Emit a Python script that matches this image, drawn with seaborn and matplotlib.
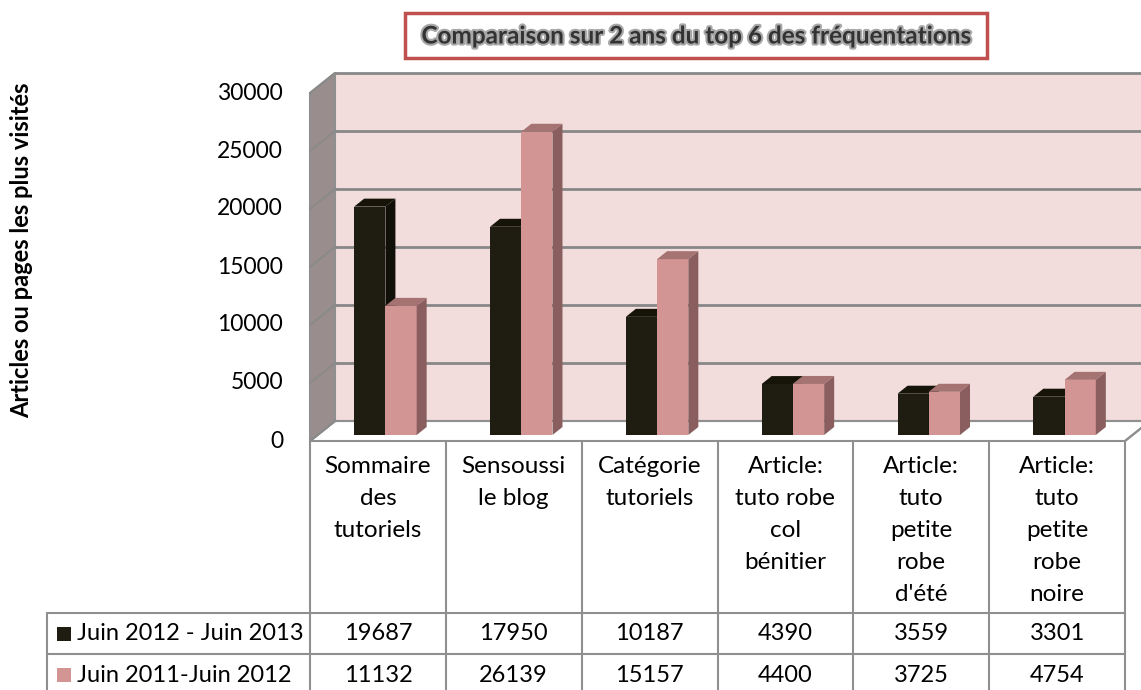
import numpy as np
import pandas as pd
import matplotlib
matplotlib.use("Agg")
import matplotlib.pyplot as plt
import matplotlib.patheffects as pe
from matplotlib.patches import Polygon, Rectangle
import seaborn as sns

# data
categories = ["Sommaire\ndes\ntutoriels", "Sensoussi\nle blog", "Catégorie\ntutoriels",
              "Article:\ntuto robe\ncol\nbénitier", "Article:\ntuto\npetite\nrobe\nd'été",
              "Article:\ntuto\npetite\nrobe\nnoire"]
series_names = ["Juin 2012 - Juin 2013", "Juin 2011-Juin 2012"]
visits_2013 = [19687, 17950, 10187, 4390, 3559, 3301]
visits_2012 = [11132, 26139, 15157, 4400, 3725, 4754]
y_ticks = [0, 5000, 10000, 15000, 20000, 25000, 30000]

title = "Comparaison sur 2 ans du top 6 des fréquentations"
ylabel = "Articles ou pages les plus visités"

colors = {"black": ("#1f1d12", "#100f08", "#161409"),
          "pink": ("#d39494", "#8a5e5e", "#a67373")}

sns.set_theme(style="white")
plt.rcParams["font.family"] = ["Lato", "DejaVu Sans"]

W, H = 1141, 690
fig = plt.figure(figsize=(W / 100, H / 100), dpi=100)
fig.patch.set_facecolor("white")

# front plane of the 3d box, in pixels: x 310..1125, y 441 (0) .. 93 (30000)
ax = fig.add_axes([310 / W, (H - 441) / H, 815 / W, 348 / H])
sx = 815 / 6
sy = 348 / 30000


def dx(px):
    return px / sx


def dy(px):
    return px / sy


def px2d(px):
    return -0.5 + (px - 310) / sx


def py2d(py):
    return (441 - py) / sy


df = pd.DataFrame({
    "cat": categories * 2,
    "val": visits_2013 + visits_2012,
    "serie": [series_names[0]] * 6 + [series_names[1]] * 6,
})

sns.barplot(data=df, x="cat", y="val", hue="serie", hue_order=series_names,
            palette=[colors["black"][0], colors["pink"][0]], saturation=1,
            width=0.46, dodge=True, legend=False, ax=ax)
ax.set_xlim(-0.5, 5.5)
ax.set_ylim(0, 30000)
ax.axis("off")

grid_c = "#878787"
line_c = "#8f8f8f"
DX, DY = dx(25), dy(20)

# back wall
ax.add_patch(Polygon([(-0.5 + DX, DY), (5.5 + DX, DY), (5.5 + DX, 30000 + DY), (-0.5 + DX, 30000 + DY)],
                     closed=True, facecolor="#f2dddc", edgecolor="none", zorder=0, clip_on=False))
for t in y_ticks[1:]:
    ax.plot([-0.5 + DX, 5.5 + DX + 0.2], [t + DY, t + DY], color=grid_c, lw=2, zorder=0.5, clip_on=False)

# floor
ax.add_patch(Polygon([(-0.5, 0), (5.5, 0), (5.5 + DX, DY), (-0.5 + DX, DY)], closed=True,
                     facecolor="white", edgecolor=line_c, lw=1.5, zorder=1, clip_on=False))
ax.plot([-0.5 + DX, 5.5 + DX + 0.2], [DY, DY], color=line_c, lw=1.5, zorder=1.1, clip_on=False)

# left wall
ax.add_patch(Polygon([(-0.5, 0), (-0.5 + DX, DY), (-0.5 + DX, 30000 + DY), (-0.5, 30000)], closed=True,
                     facecolor="#9a8d8d", edgecolor=line_c, lw=1.5, zorder=1.2, clip_on=False))
for t in y_ticks:
    ax.plot([-0.5, -0.5 + DX], [t, t + DY], color="#8a8a8a", lw=1.5, zorder=1.3, clip_on=False)

# bars: move into the box and give them depth
bdx, bdy = dx(10), dy(8)
pink_rgb = matplotlib.colors.to_rgb(colors["pink"][0])
for p in ax.patches:
    if not isinstance(p, Rectangle) or p.get_width() > 1:
        continue
    fc = matplotlib.colors.to_rgb(p.get_facecolor())
    key = "pink" if np.allclose(fc, pink_rgb, atol=0.02) else "black"
    z = 4 if key == "pink" else 3
    p.set_x(p.get_x() + dx(7.5))
    p.set_y(dy(6))
    p.set_zorder(z)
    p.set_edgecolor("none")
    x0, y0, w, h = p.get_x(), p.get_y(), p.get_width(), p.get_height()
    top = [(x0, y0 + h), (x0 + w, y0 + h), (x0 + w + bdx, y0 + h + bdy), (x0 + bdx, y0 + h + bdy)]
    side = [(x0 + w, y0), (x0 + w + bdx, y0 + bdy), (x0 + w + bdx, y0 + h + bdy), (x0 + w, y0 + h)]
    ax.add_patch(Polygon(top, closed=True, facecolor=colors[key][2], edgecolor="none", zorder=z, clip_on=False))
    ax.add_patch(Polygon(side, closed=True, facecolor=colors[key][1], edgecolor="none", zorder=z, clip_on=False))

# y tick labels
for t in y_ticks:
    ax.text(px2d(283), t, str(t), ha="right", va="center", fontsize=16.5, color="black")

# data table
tfs = 17.5
y_rows = [441, 613, 654, 695]
for i in range(7):
    ax.plot([i - 0.5, i - 0.5], [py2d(441), py2d(700)], color=line_c, lw=1.5, zorder=2, clip_on=False)
ax.plot([px2d(47), px2d(47)], [py2d(613), py2d(700)], color=line_c, lw=1.5, zorder=2, clip_on=False)
for yr in y_rows[1:]:
    ax.plot([px2d(47), 5.5], [py2d(yr), py2d(yr)], color=line_c, lw=1.5, zorder=2, clip_on=False)
ax.plot([5.5, 5.5 + DX], [0, DY], color=line_c, lw=1.5, zorder=2, clip_on=False)

for i, cat in enumerate(categories):
    ax.text(i, py2d(456), cat, ha="center", va="top", fontsize=tfs, linespacing=1.65, color="black")
    ax.text(i, py2d(634), str(visits_2013[i]), ha="center", va="center", fontsize=17, color="black")
    ax.text(i, py2d(675), str(visits_2012[i]), ha="center", va="center", fontsize=17, color="black")

for k, (name, key) in enumerate(zip(series_names, ["black", "pink"])):
    yc = 634 + 41 * k
    ax.add_patch(Rectangle((px2d(57), py2d(yc + 7)), dx(14), dy(14), facecolor=colors[key][0],
                           edgecolor="none", clip_on=False))
    ax.text(px2d(77), py2d(yc), name, ha="left", va="center", fontsize=17, color="black")

# axis title
fig.text(22 / W, 1 - 250 / H, ylabel, rotation=90, ha="center", va="center",
         fontsize=17, fontweight="bold", color="black")

# chart title in a red box
fig.add_artist(Rectangle((405 / W, 1 - 58 / H), 582 / W, 45 / H, transform=fig.transFigure,
                         facecolor="white", edgecolor="#c0504d", lw=2.5))
fig.text(696 / W, 1 - 36 / H, title, ha="center", va="center", fontsize=17.5, fontweight="bold",
         color="#333333", path_effects=[pe.withStroke(linewidth=3, foreground="#a8a8a8")])

fig.savefig("out.png", dpi=100)
